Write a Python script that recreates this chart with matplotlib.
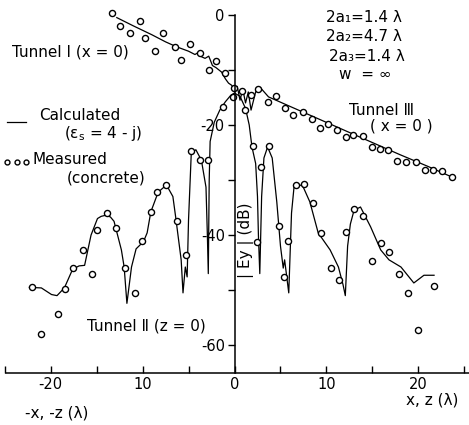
import matplotlib
matplotlib.use("Agg")
import matplotlib.pyplot as plt

plt.rcParams['font.family'] = ['DejaVu Sans']
plt.rcParams['mathtext.default'] = 'regular'

# calculated curves (x in wavelengths, |Ey| in dB)
t1_calc_x = [-12.8, -11.0, -9.0, -7.5, -6.3, -5.0, -4.3, -3.9, -3.6, -3.2, -2.8, -2.4, -2.0, -1.4, -1.0, -0.65, -0.3, 0.0]
t1_calc_y = [-0.5, -2.0, -3.6, -4.9, -5.8, -6.6, -7.2, -6.8, -7.6, -7.9, -7.5, -9.2, -9.6, -10.4, -11.6, -12.4, -12.8, -13.8]

t3_calc_x = [0.0, 0.3, 0.6, 0.9, 1.2, 1.5, 1.8, 2.3, 2.8, 3.7, 6.0, 9.0, 12.0, 15.0, 18.0, 21.0, 23.7]
t3_calc_y = [-13.8, -13.0, -15.5, -13.5, -16.0, -14.0, -17.3, -14.0, -13.2, -14.9, -16.6, -18.8, -21.0, -23.2, -25.4, -27.5, -29.5]

t2_calc_x = [-22.3, -21.0, -19.9, -19.3, -18.5, -17.6, -16.9, -16.3, -15.6, -14.9, -14.5, -14.0, -13.5, -13.1,
             -12.3, -12.0, -11.7, -11.2, -10.7, -9.9, -9.5, -9.1, -8.3, -7.4, -6.7, -6.4, -5.8, -5.6,
             -5.35, -5.15, -5.0, -4.7, -4.2, -3.6, -3.1, -2.95, -2.85, -2.75, -2.65, -2.2, -1.6, -1.0,
             -0.4, 0.0, 0.6, 1.2, 1.6, 1.9, 2.3, 2.5, 2.6, 2.75, 2.95, 3.2, 3.6, 4.1, 4.6, 5.0, 5.3,
             5.45, 5.6, 5.9, 6.2, 6.5, 7.4, 8.2, 9.1, 10.4, 11.3, 11.8, 12.05, 12.3, 12.6, 13.0, 13.7,
             14.8, 15.9, 16.8, 18.1, 19.5, 20.6, 21.7]
t2_calc_y = [-49.5, -49.6, -50.8, -51.0, -49.6, -46.2, -45.6, -45.5, -40.0, -37.0, -36.6, -36.4, -36.7, -37.5,
             -42.7, -45.8, -52.4, -45.8, -42.5, -41.2, -39.6, -35.8, -32.2, -30.9, -33.0, -36.7, -44.5, -50.5,
             -45.8, -47.6, -37.3, -25.1, -24.5, -26.4, -31.3, -40.0, -47.0, -30.0, -23.0, -19.5, -17.3, -15.8,
             -14.6, -14.2, -14.8, -17.0, -20.0, -24.0, -27.0, -33.0, -40.0, -47.0, -33.0, -26.0, -24.0, -26.0,
             -34.0, -42.0, -46.0, -44.5, -46.5, -50.5, -36.0, -30.8, -31.0, -34.0, -39.6, -42.7, -45.8, -49.0,
             -51.0, -42.0, -38.0, -35.5, -34.9, -38.5, -42.7, -44.5, -45.8, -48.7, -47.3, -47.3]

# measured points
t1_meas_x = [-13.3, -12.4, -10.3, -11.4, -9.7, -7.8, -8.6, -6.5, -5.8, -4.8, -3.7, -2.8, -2.0, -1.0, -0.1]
t1_meas_y = [0.4, -2.0, -1.1, -3.3, -4.2, -3.3, -6.5, -5.8, -8.2, -5.3, -6.9, -10.0, -8.4, -10.5, -13.3]

t3_meas_x = [0.8, 1.8, 2.6, 3.6, 4.5, 5.5, 6.4, 7.4, 8.4, 9.3, 10.2, 11.2, 12.1, 12.9, 14.0, 15.0, 15.8,
             16.7, 17.7, 18.7, 19.7, 20.7, 21.6, 22.6, 23.6]
t3_meas_y = [-13.9, -14.5, -13.5, -15.8, -14.7, -17.0, -18.2, -17.6, -19.0, -20.6, -19.8, -20.9, -22.2, -21.8,
             -22.0, -24.0, -24.4, -24.5, -26.5, -26.7, -26.7, -28.2, -28.2, -28.4, -29.5]

t2_meas_x = [-22.0, -21.0, -19.2, -18.4, -17.6, -16.5, -15.5, -14.9, -13.9, -12.9, -11.9, -10.8, -10.1, -9.1,
             -8.4, -7.4, -6.2, -5.3, -4.7, -3.7, -2.9, -1.2, -0.15, 1.1, 2.0, 2.9, 2.5, 3.8, 4.8, 5.8, 5.4,
             6.7, 7.6, 8.5, 9.4, 10.5, 11.4, 12.1, 13.0, 14.0, 15.0, 15.9, 16.8, 17.9, 18.9, 20.0, 21.7]
t2_meas_y = [-49.5, -58.0, -54.4, -49.8, -46.0, -42.7, -47.0, -39.0, -36.0, -38.8, -46.0, -50.5, -41.0, -35.8,
             -32.1, -30.9, -37.4, -43.6, -24.7, -26.4, -26.4, -16.7, -15.0, -17.3, -23.8, -27.7, -41.2, -23.9,
             -38.4, -41.0, -47.6, -30.9, -30.8, -34.1, -39.7, -45.9, -48.2, -39.5, -35.3, -36.5, -44.7, -41.4,
             -43.0, -47.0, -50.5, -57.3, -49.3]

y_ticks = [0, -20, -40, -60]
y_ticklabels = ['0', '-20', '-40', '-60']
x_ticks = [-20, -10, 0, 10, 20]
x_ticklabels = ['-20', '10', '0', '10', '20']

fig = plt.figure(figsize=(4.69, 4.25), dpi=100)
ax = fig.add_axes([0, 0, 1, 1])
ax.set_xlim(-25.5, 25.5)
ax.set_ylim(-74.5, 2.7)

lw = 0.9
calc, = ax.plot(t1_calc_x, t1_calc_y, color='black', lw=lw)
ax.plot(t3_calc_x, t3_calc_y, color='black', lw=lw)
ax.plot(t2_calc_x, t2_calc_y, color='black', lw=lw)

mk = dict(ls='none', marker='o', ms=4.4, mfc='white', mec='black', mew=1.0)
meas, = ax.plot(t1_meas_x, t1_meas_y, **mk)
ax.plot(t3_meas_x, t3_meas_y, **mk)
ax.plot(t2_meas_x, t2_meas_y, **mk)

for s in ['top', 'right']:
    ax.spines[s].set_visible(False)
ax.spines['left'].set_position(('data', 0))
ax.spines['left'].set_bounds(-65, 0)
ax.spines['bottom'].set_position(('data', -65))
ax.spines['bottom'].set_bounds(-24.8, 25.5)
for s in ['left', 'bottom']:
    ax.spines[s].set_linewidth(1.1)

ax.set_yticks(y_ticks, labels=y_ticklabels)
ax.set_yticks([-10, -30, -50], minor=True)
ax.set_xticks(x_ticks, labels=x_ticklabels)
ax.set_xticks([-25, -15, -5, 5, 15, 25], minor=True)
ax.tick_params(axis='y', which='both', direction='out', length=5, width=1, labelsize=10.5, pad=2)
ax.tick_params(axis='x', which='both', direction='in', length=5, width=1, labelsize=10.5, pad=3)

fs = 11
ax.text(-24.2, -6.7, 'Tunnel Ⅰ (x = 0)', fontsize=fs, va='center')
ax.text(-21.2, -18.2, 'Calculated', fontsize=fs, va='center')
ax.text(-18.5, -21.5, '(ε$_s$ = 4 - j)', fontsize=fs, va='center')
ax.text(-22.0, -26.3, 'Measured', fontsize=fs, va='center')
ax.text(-18.2, -29.6, '(concrete)', fontsize=fs, va='center')
ax.legend([calc, meas], [' ', ' '], loc='upper left', bbox_to_anchor=(2 / 469, 1 - 115 / 425),
          frameon=False, numpoints=3, handlelength=1.9, handletextpad=0.2, markerscale=0.8,
          labelspacing=1.68, borderaxespad=0, borderpad=0, fontsize=fs)

ax.text(10.0, -0.5, '2a₁=1.4 λ', fontsize=fs, va='center')
ax.text(10.0, -3.9, '2a₂=4.7 λ', fontsize=fs, va='center')
ax.text(10.3, -7.5, '2a₃=1.4 λ', fontsize=fs, va='center')
ax.text(11.4, -10.9, 'w  = ∞', fontsize=fs, va='center')
ax.text(12.5, -17.3, 'Tunnel Ⅲ', fontsize=fs, va='center')
ax.text(14.7, -20.2, '( x = 0 )', fontsize=fs, va='center')
ax.text(-16.0, -56.5, 'Tunnel Ⅱ (z = 0)', fontsize=fs, va='center')
ax.text(1.3, -41, '| Ey | (dB)', fontsize=fs, rotation=90, ha='center', va='center')
ax.text(-22.8, -72.4, '-x, -z (λ)', fontsize=fs, va='center')
ax.text(18.6, -69.9, 'x, z (λ)', fontsize=fs, va='center')

fig.savefig('out.png', dpi=100)
